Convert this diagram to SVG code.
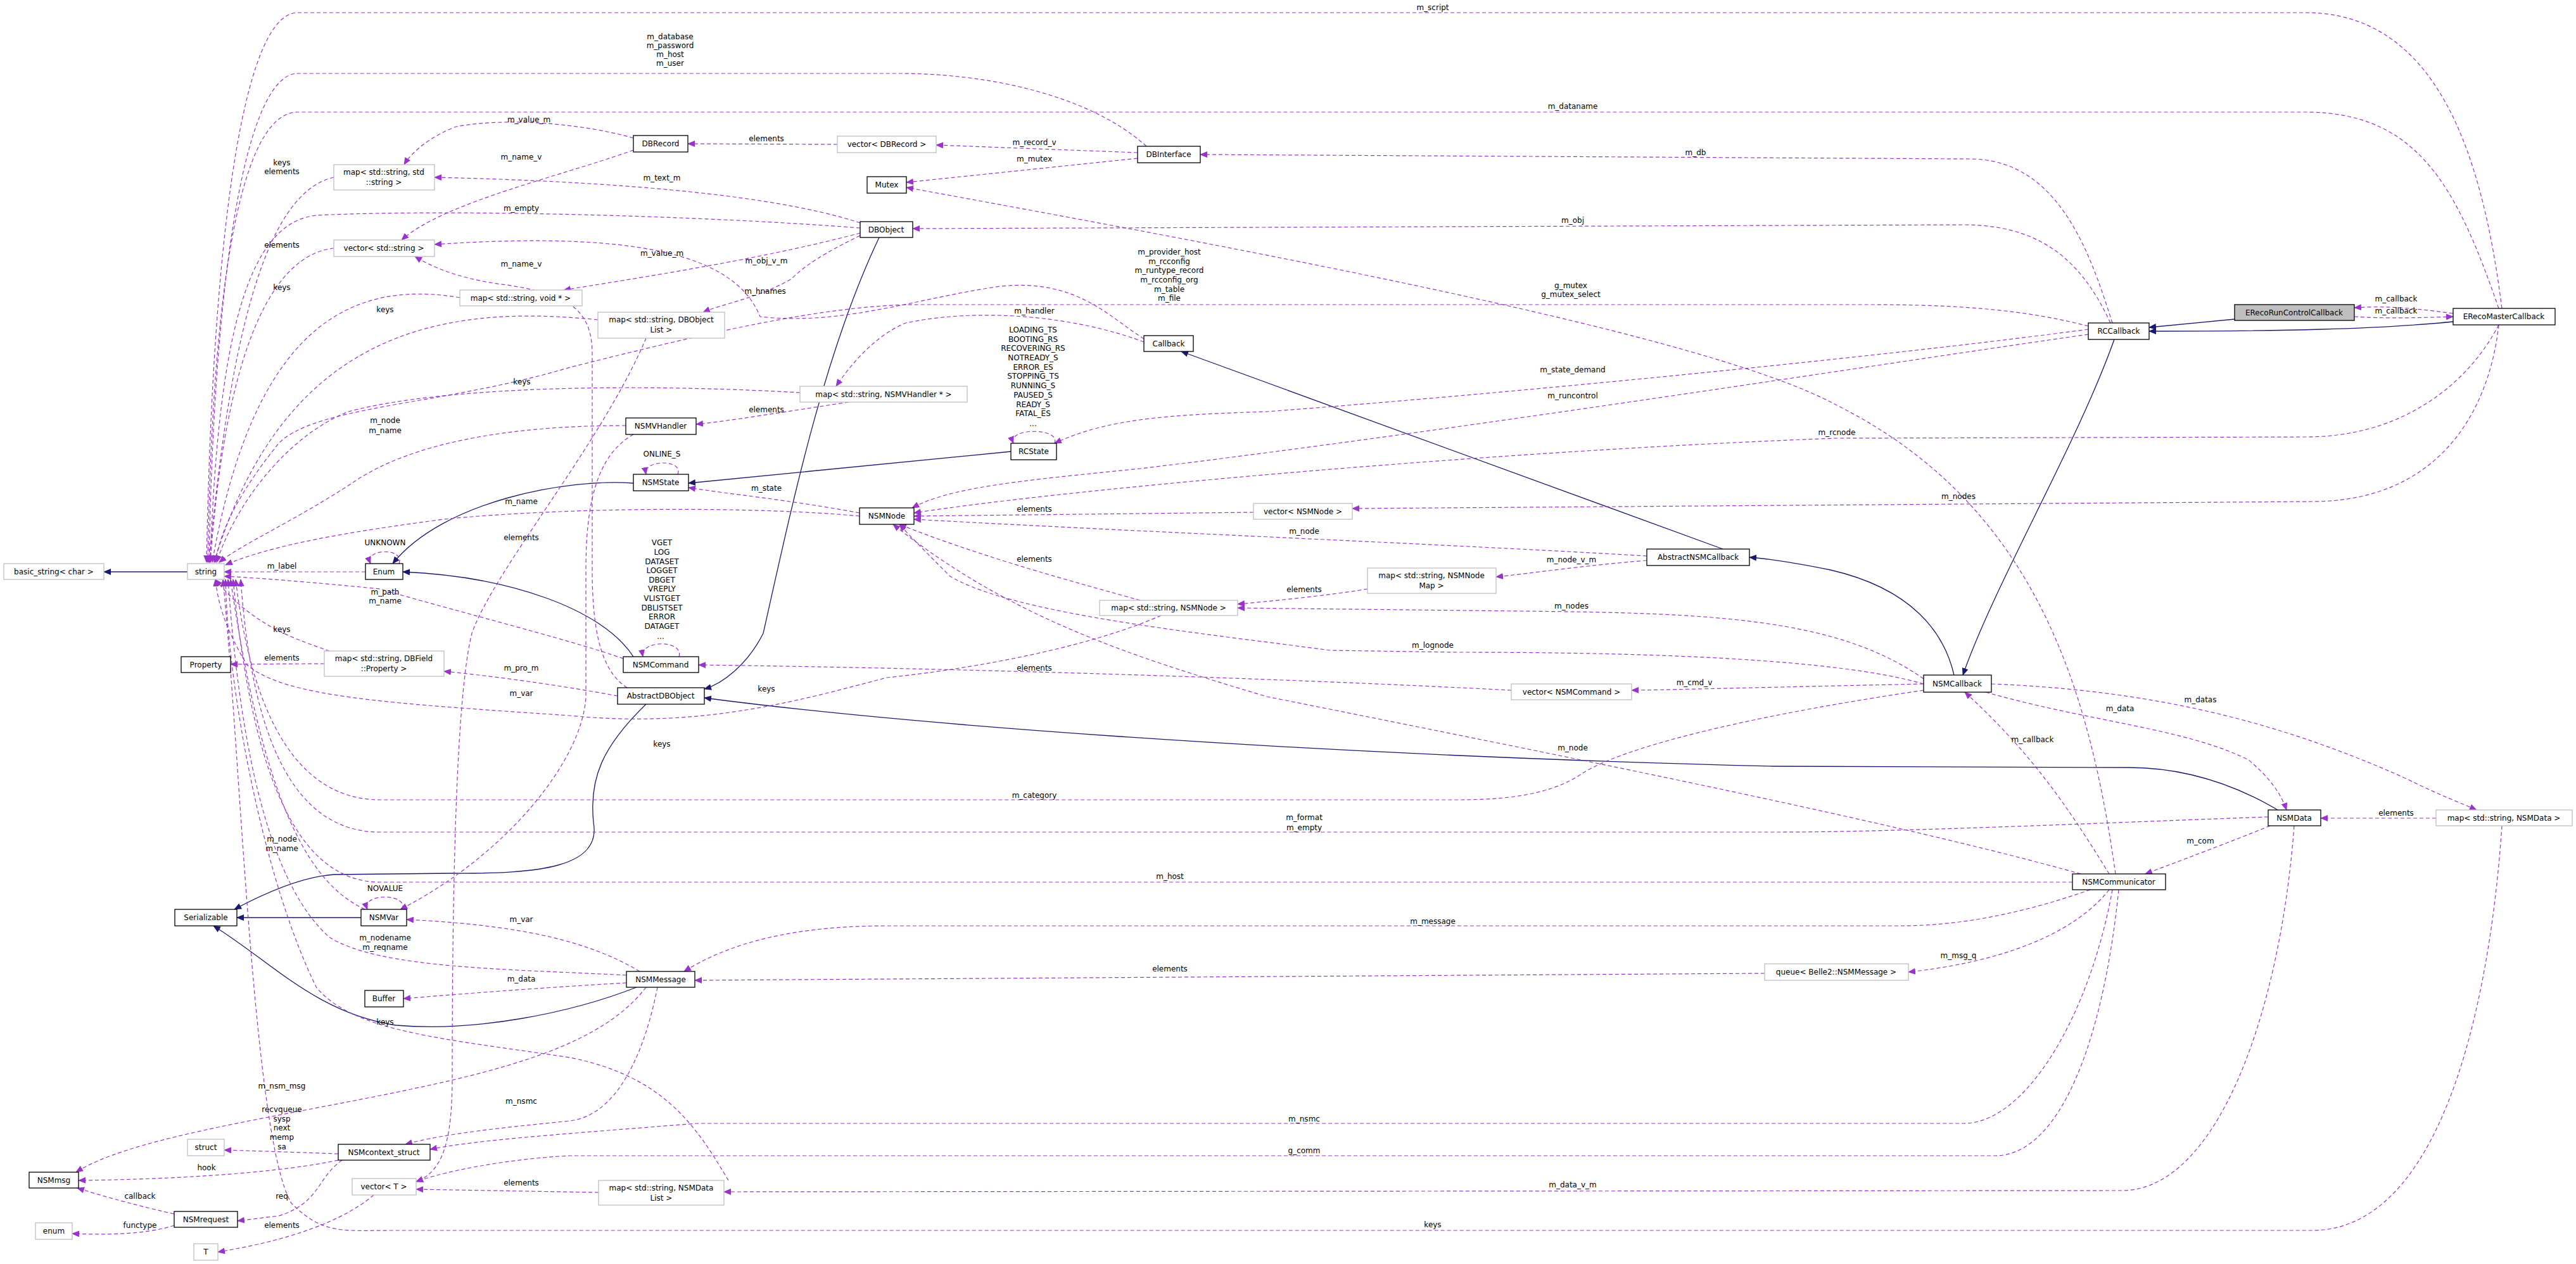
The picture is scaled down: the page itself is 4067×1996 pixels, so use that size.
<svg xmlns="http://www.w3.org/2000/svg" width="4067" height="1996" viewBox="0 0 4067 1996">
<style>
text{font-family:"DejaVu Sans","Liberation Sans",sans-serif;font-size:12px;fill:#000;text-anchor:middle}
.n rect{fill:#fff;stroke:#000;stroke-width:1.3}
.g rect{fill:#fff;stroke:#bfbfbf;stroke-width:1.3}
.h rect{fill:#bfbfbf;stroke:#000;stroke-width:1.3}
.d{fill:none;stroke:#9a32cd;stroke-width:1.2;stroke-dasharray:6,4;marker-end:url(#pa)}
.i{fill:none;stroke:#191970;stroke-width:1.3;marker-end:url(#na)}
</style>
<defs>
<marker id="pa" markerWidth="12" markerHeight="10" refX="11" refY="5" orient="auto" markerUnits="userSpaceOnUse"><path d="M0,0 L12,5 L0,10 z" fill="#9a32cd"/></marker>
<marker id="na" markerWidth="12" markerHeight="10" refX="11" refY="5" orient="auto" markerUnits="userSpaceOnUse"><path d="M0,0 L12,5 L0,10 z" fill="#191970"/></marker>
</defs>
<rect width="4067" height="1996" fill="#fff"/>
<g id="edges">
<path class="i" d="M296 903 L164 903"/>
<path class="i" d="M1000 763 C900 755 700 790 620 890"/>
<path class="i" d="M1596 713 L1087 763"/>
<path class="i" d="M1000 1037 C950 960 800 910 636 903"/>
<path class="i" d="M1388 375 C1300 560 1250 800 1205 1000 C1180 1050 1140 1080 1112 1088"/>
<path class="i" d="M3596 1279 C3530 1240 3450 1212 3360 1212 L2800 1210 C2000 1190 1400 1140 1112 1102"/>
<path class="i" d="M1020 1112 C950 1180 930 1230 937 1299 C950 1370 850 1380 714 1379 L527 1381 C470 1385 400 1420 370 1436"/>
<path class="i" d="M570 1449 L374 1449"/>
<path class="i" d="M1005 1559 C900 1600 750 1630 625 1619 C500 1600 430 1520 337 1462"/>
<path class="i" d="M3338 536 C3280 700 3150 920 3099 1066"/>
<path class="i" d="M3085 1066 C3070 1000 3020 930 2890 900 C2840 890 2790 882 2762 880"/>
<path class="i" d="M2720 867 L1865 555"/>
<path class="i" d="M3528 504 L3393 517"/>
<path class="i" d="M3873 508 C3750 520 3600 523 3393 523"/>

<path class="d" d="M3950 487 C3920 250 3850 20 3640 20 L470 20 C380 20 335 400 326 888"/>
<path class="d" d="M3945 487 C3880 300 3820 177 3640 177 L470 177 C380 177 335 450 328 888"/>
<path class="d" d="M1810 231 C1720 150 1560 116 1420 116 L470 116 C390 116 338 420 330 888"/>
<path class="d" d="M3335 510 C3300 400 3250 251 3110 251 L1895 244"/>
<path class="d" d="M1796 241 L1478 229"/>
<path class="d" d="M1796 250 L1431 288"/>
<path class="d" d="M1322 228 L1086 227"/>
<path class="d" d="M1000 218 C920 195 800 185 720 200 C680 215 650 240 638 260"/>
<path class="d" d="M1000 237 C880 280 700 320 634 379"/>
<path class="d" d="M1358 352 C1200 300 900 285 686 280"/>
<path class="d" d="M1358 360 C1100 340 700 330 500 340 C400 350 345 500 332 888"/>
<path class="d" d="M1358 368 C1200 410 1000 440 890 458"/>
<path class="d" d="M1358 372 C1300 400 1270 420 1250 440 C1200 470 1140 480 1110 493"/>
<path class="d" d="M1806 535 C1750 500 1700 440 1580 452 C1450 470 1330 515 1200 500 C1160 400 1000 365 686 386"/>
<path class="d" d="M527 392 C450 400 360 500 332 888"/>
<path class="d" d="M527 280 C440 300 370 450 330 888"/>
<path class="d" d="M726 470 C550 440 400 520 335 888"/>
<path class="d" d="M944 505 C700 480 450 520 338 888"/>
<path class="d" d="M3297 515 C3200 490 3100 481 2950 481 L1450 481 C1300 481 1100 530 900 580 C700 640 500 640 440 700 C400 750 350 820 340 888"/>
<path class="d" d="M1263 620 C1000 605 700 610 550 650 C450 690 370 800 342 888"/>
<path class="d" d="M988 672 C800 672 650 700 560 760 C470 820 380 860 346 888"/>
<path class="d" d="M1357 815 C1200 800 900 800 700 820 C550 840 430 860 356 892"/>
<path class="d" d="M577 903 L354 903"/>
<path class="d" d="M984 1040 C900 1010 700 960 600 930 C500 920 400 912 354 910"/>
<path class="d" d="M520 1028 C470 1010 400 990 340 915"/>
<path class="d" d="M1833 972 C1700 1030 1500 1060 1400 1070 C1250 1110 1100 1150 900 1130 C600 1110 450 1100 390 1050 C360 1000 345 960 340 915"/>
<path class="d" d="M1000 686 C940 720 925 800 925 900 L925 1100 C920 1200 800 1350 632 1436"/>
<path class="d" d="M990 1086 C950 1060 935 1000 935 900 L935 560 C935 490 900 465 800 450 C720 440 680 420 655 405"/>
<path class="d" d="M1020 534 C950 700 780 900 745 1000 C720 1100 714 1400 714 1700 C714 1800 700 1850 657 1866"/>
<path class="d" d="M512 1048 L364 1049"/>
<path class="d" d="M975 1099 C900 1085 800 1070 701 1060"/>
<path class="d" d="M3581 1290 C3300 1300 3000 1314 2800 1314 L600 1314 C480 1314 400 1200 380 915"/>
<path class="d" d="M3037 1090 C2900 1110 2600 1160 2500 1220 C2450 1255 2380 1263 2300 1263 L600 1263 C480 1263 400 1150 372 915"/>
<path class="d" d="M3272 1393 L600 1393 C480 1393 400 1250 368 915"/>
<path class="d" d="M576 1436 C500 1400 420 1300 364 915"/>
<path class="d" d="M989 1540 C800 1530 600 1530 520 1480 C430 1400 380 1200 360 915"/>
<path class="d" d="M1150 1864 C1100 1780 1050 1700 900 1670 C700 1640 560 1630 500 1560 C420 1400 360 1100 356 915"/>
<path class="d" d="M3950 1304 C3930 1600 3850 1943 3650 1943 L620 1943 C540 1943 510 1950 460 1900 C400 1800 380 1200 352 915"/>
<path class="d" d="M3332 510 C3290 420 3230 355 3100 355 L1441 361"/>
<path class="d" d="M3297 520 C3000 560 2400 620 2000 650 C1850 655 1750 660 1665 700"/>
<path class="d" d="M3297 528 C3000 570 2300 680 1800 740 C1600 760 1500 770 1440 802"/>
<path class="d" d="M3945 513 C3900 600 3800 690 3640 690 L2900 692 C2400 710 1700 770 1443 810"/>
<path class="d" d="M3945 513 C3930 650 3850 792 3650 792 L2135 803"/>
<path class="d" d="M1979 809 L1443 815"/>
<path class="d" d="M2600 878 C2300 860 1800 840 1443 820"/>
<path class="d" d="M2600 885 C2500 893 2420 905 2362 911"/>
<path class="d" d="M2159 930 C2100 940 2000 950 1954 954"/>
<path class="d" d="M3037 1072 C2900 975 2700 968 2400 965 L1954 960"/>
<path class="d" d="M3037 1080 C2900 1040 2600 1030 2300 1030 L2100 1027 C1900 1000 1600 970 1500 910 C1460 870 1440 850 1420 828"/>
<path class="d" d="M1800 948 C1700 920 1550 880 1420 828"/>
<path class="d" d="M3285 1380 C3000 1300 2500 1200 2000 1100 C1800 1040 1600 980 1410 828"/>
<path class="d" d="M2386 1090 C2000 1070 1500 1055 1103 1050"/>
<path class="d" d="M3037 1080 C2800 1085 2650 1089 2576 1090"/>
<path class="d" d="M3144 1080 C3400 1090 3600 1140 3800 1230 C3850 1255 3890 1270 3910 1279"/>
<path class="d" d="M3135 1093 C3300 1140 3450 1150 3550 1200 C3580 1225 3600 1250 3610 1279"/>
<path class="d" d="M3330 1380 C3280 1300 3220 1200 3102 1093"/>
<path class="d" d="M3846 1292 L3664 1292"/>
<path class="d" d="M3584 1304 C3520 1330 3440 1360 3387 1380"/>
<path class="d" d="M3340 1380 C3300 1100 3220 800 2900 640 C2700 530 2000 400 1431 296"/>
<path class="d" d="M3300 1405 C3200 1440 3100 1462 3000 1462 L1400 1462 C1250 1462 1150 1490 1080 1534"/>
<path class="d" d="M3330 1405 C3270 1480 3150 1520 3013 1535"/>
<path class="d" d="M2786 1537 L1097 1548"/>
<path class="d" d="M3335 1405 C3300 1600 3200 1774 3100 1774 L1100 1774 C900 1790 750 1800 679 1815"/>
<path class="d" d="M3345 1405 C3320 1650 3250 1825 3150 1825 L900 1825 C800 1830 700 1850 657 1866"/>
<path class="d" d="M3622 1304 C3600 1600 3500 1880 3350 1880 L1143 1882"/>
<path class="d" d="M945 1883 L657 1878"/>
<path class="d" d="M590 1887 C540 1930 450 1960 344 1977"/>
<path class="d" d="M1010 1534 C920 1480 800 1460 642 1452"/>
<path class="d" d="M989 1552 C850 1560 720 1570 637 1577"/>
<path class="d" d="M1020 1559 C950 1650 800 1690 600 1730 C400 1770 200 1800 120 1851"/>
<path class="d" d="M1038 1559 C1020 1650 980 1760 900 1770 C800 1780 700 1790 640 1807"/>
<path class="d" d="M534 1822 C480 1820 420 1818 354 1816"/>
<path class="d" d="M534 1832 C450 1850 300 1862 124 1864"/>
<path class="d" d="M540 1832 C500 1860 505 1900 440 1920 L375 1928"/>
<path class="d" d="M275 1917 C200 1900 150 1885 122 1876"/>
<path class="d" d="M275 1935 C230 1950 160 1950 114 1948"/>
<path class="d" d="M1806 540 C1700 500 1550 485 1430 510 C1380 530 1340 580 1320 610"/>
<path class="d" d="M1340 635 C1240 650 1150 665 1099 670"/>
<path class="d" d="M1357 810 C1250 790 1150 780 1087 770"/>
<path class="d" d="M3873 495 C3800 485 3760 483 3717 486"/>
<path class="d" d="M3717 500 C3760 503 3820 502 3873 500"/>
<path class="d" d="M1070 749 C1080 725 1015 725 1020 749"/>
<path class="d" d="M630 890 C640 865 575 865 585 890"/>
<path class="d" d="M635 1436 C645 1410 570 1410 580 1436"/>
<path class="d" d="M1072 1037 C1080 1010 1010 1010 1015 1037"/>
<path class="d" d="M1665 700 C1675 675 1590 675 1600 700"/>
</g>
<g id="labels">
<text x="2262" y="16">m_script</text>
<text x="1058" y="62">m_database</text><text x="1058" y="76">m_password</text><text x="1058" y="90">m_host</text><text x="1058" y="104">m_user</text>
<text x="2483" y="172">m_dataname</text>
<text x="835" y="193">m_value_m</text>
<text x="1210" y="223">elements</text>
<text x="1633" y="229">m_record_v</text>
<text x="1633" y="255">m_mutex</text>
<text x="2677" y="245">m_db</text>
<text x="445" y="261">keys</text><text x="445" y="275">elements</text>
<text x="823" y="252">m_name_v</text>
<text x="1045" y="285">m_text_m</text>
<text x="823" y="333">m_empty</text>
<text x="445" y="391">elements</text>
<text x="1045" y="404">m_value_m</text>
<text x="823" y="421">m_name_v</text>
<text x="1210" y="416">m_obj_v_m</text>
<text x="1208" y="464">m_hnames</text>
<text x="445" y="458">keys</text>
<text x="608" y="493">keys</text>
<text x="2483" y="352">m_obj</text>
<text x="1846" y="402">m_provider_host</text><text x="1846" y="417">m_rcconfig</text><text x="1846" y="431">m_runtype_record</text><text x="1846" y="446">m_rcconfig_org</text><text x="1846" y="461">m_table</text><text x="1846" y="475">m_file</text>
<text x="2480" y="455">g_mutex</text><text x="2480" y="469">g_mutex_select</text>
<text x="1633" y="495">m_handler</text>
<text x="1631" y="525">LOADING_TS</text><text x="1631" y="540">BOOTING_RS</text><text x="1631" y="554">RECOVERING_RS</text><text x="1631" y="569">NOTREADY_S</text><text x="1631" y="584">ERROR_ES</text><text x="1631" y="598">STOPPING_TS</text><text x="1631" y="613">RUNNING_S</text><text x="1631" y="628">PAUSED_S</text><text x="1631" y="643">READY_S</text><text x="1631" y="657">FATAL_ES</text><text x="1631" y="673">...</text>
<text x="824" y="607">keys</text>
<text x="1210" y="651">elements</text>
<text x="608" y="668">m_node</text><text x="608" y="684">m_name</text>
<text x="1045" y="721">ONLINE_S</text>
<text x="2483" y="588">m_state_demand</text>
<text x="2483" y="629">m_runcontrol</text>
<text x="2900" y="687">m_rcnode</text>
<text x="1210" y="775">m_state</text>
<text x="823" y="796">m_name</text>
<text x="3092" y="788">m_nodes</text>
<text x="1633" y="808">elements</text>
<text x="2059" y="843">m_node</text>
<text x="1633" y="887">elements</text>
<text x="2481" y="888">m_node_v_m</text>
<text x="608" y="861">UNKNOWN</text>
<text x="445" y="898">m_label</text>
<text x="823" y="853">elements</text>
<text x="1045" y="861">VGET</text><text x="1045" y="876">LOG</text><text x="1045" y="891">DATASET</text><text x="1045" y="905">LOGGET</text><text x="1045" y="920">DBGET</text><text x="1045" y="934">VREPLY</text><text x="1045" y="949">VLISTGET</text><text x="1045" y="964">DBLISTSET</text><text x="1045" y="978">ERROR</text><text x="1045" y="993">DATAGET</text><text x="1043" y="1009">...</text>
<text x="608" y="939">m_path</text><text x="608" y="953">m_name</text>
<text x="445" y="998">keys</text>
<text x="2059" y="935">elements</text>
<text x="2481" y="961">m_nodes</text>
<text x="2262" y="1023">m_lognode</text>
<text x="1633" y="1059">elements</text>
<text x="2675" y="1082">m_cmd_v</text>
<text x="2483" y="1185">m_node</text>
<text x="1633" y="1260">m_category</text>
<text x="2059" y="1295">m_format</text><text x="2059" y="1311">m_empty</text>
<text x="1847" y="1388">m_host</text>
<text x="2262" y="1459">m_message</text>
<text x="1847" y="1534">elements</text>
<text x="2059" y="1771">m_nsmc</text>
<text x="2059" y="1821">g_comm</text>
<text x="2483" y="1875">m_data_v_m</text>
<text x="2262" y="1938">keys</text>
<text x="445" y="1043">elements</text>
<text x="823" y="1059">m_pro_m</text>
<text x="823" y="1099">m_var</text>
<text x="1210" y="1092">keys</text>
<text x="1045" y="1179">keys</text>
<text x="445" y="1329">m_node</text><text x="445" y="1344">m_name</text>
<text x="608" y="1407">NOVALUE</text>
<text x="823" y="1456">m_var</text>
<text x="608" y="1485">m_nodename</text><text x="608" y="1500">m_reqname</text>
<text x="823" y="1550">m_data</text>
<text x="608" y="1618">keys</text>
<text x="445" y="1719">m_nsm_msg</text>
<text x="823" y="1743">m_nsmc</text>
<text x="445" y="1756">recvqueue</text><text x="445" y="1771">sysp</text><text x="445" y="1785">next</text><text x="445" y="1800">memp</text><text x="445" y="1815">sa</text>
<text x="326" y="1848">hook</text>
<text x="221" y="1893">callback</text>
<text x="445" y="1893">req</text>
<text x="221" y="1939">functype</text>
<text x="445" y="1939">elements</text>
<text x="823" y="1872">elements</text>
<text x="3474" y="1109">m_datas</text>
<text x="3347" y="1123">m_data</text>
<text x="3209" y="1172">m_callback</text>
<text x="3783" y="1288">elements</text>
<text x="3474" y="1332">m_com</text>
<text x="3092" y="1513">m_msg_q</text>
<text x="3783" y="476">m_callback</text>
<text x="3783" y="495">m_callback</text>
</g>
<g id="basic_string" class="g"><rect x="6" y="890" width="158" height="25"/><text x="85" y="907">basic_string&lt; char &gt;</text></g>
<g id="string" class="g"><rect x="296" y="890" width="58" height="25"/><text x="325" y="907">string</text></g>
<g id="Enum" class="n"><rect x="577" y="890" width="59" height="25"/><text x="606" y="907">Enum</text></g>
<g id="NSMState" class="n"><rect x="1000" y="749" width="87" height="26"/><text x="1043" y="766">NSMState</text></g>
<g id="NSMVHandler" class="n"><rect x="988" y="660" width="111" height="26"/><text x="1043" y="677">NSMVHandler</text></g>
<g id="DBRecord" class="n"><rect x="1000" y="214" width="86" height="26"/><text x="1043" y="231">DBRecord</text></g>
<g id="map_ss" class="g"><rect x="527" y="260" width="159" height="40"/><text x="606" y="276">map&lt; std::string, std</text><text x="606" y="292">::string &gt;</text></g>
<g id="vec_str" class="g"><rect x="527" y="379" width="159" height="26"/><text x="606" y="396">vector&lt; std::string &gt;</text></g>
<g id="map_void" class="g"><rect x="726" y="458" width="193" height="25"/><text x="822" y="475">map&lt; std::string, void * &gt;</text></g>
<g id="map_dbol" class="g"><rect x="944" y="493" width="200" height="41"/><text x="1044" y="509">map&lt; std::string, DBObject</text><text x="1044" y="525">List &gt;</text></g>
<g id="vec_dbrec" class="g"><rect x="1322" y="215" width="156" height="26"/><text x="1400" y="232">vector&lt; DBRecord &gt;</text></g>
<g id="Mutex" class="n"><rect x="1369" y="279" width="62" height="26"/><text x="1400" y="296">Mutex</text></g>
<g id="DBObject" class="n"><rect x="1358" y="350" width="83" height="25"/><text x="1399" y="367">DBObject</text></g>
<g id="DBInterface" class="n"><rect x="1796" y="231" width="99" height="26"/><text x="1845" y="248">DBInterface</text></g>
<g id="Callback" class="n"><rect x="1806" y="530" width="78" height="25"/><text x="1845" y="547">Callback</text></g>
<g id="map_vh" class="g"><rect x="1263" y="610" width="264" height="25"/><text x="1395" y="627">map&lt; std::string, NSMVHandler * &gt;</text></g>
<g id="RCState" class="n"><rect x="1596" y="700" width="72" height="26"/><text x="1632" y="717">RCState</text></g>
<g id="NSMNode" class="n"><rect x="1357" y="802" width="86" height="26"/><text x="1400" y="819">NSMNode</text></g>
<g id="vec_node" class="g"><rect x="1979" y="795" width="156" height="25"/><text x="2057" y="812">vector&lt; NSMNode &gt;</text></g>
<g id="map_nodemap" class="g"><rect x="2159" y="897" width="203" height="40"/><text x="2260" y="913">map&lt; std::string, NSMNode</text><text x="2260" y="929">Map &gt;</text></g>
<g id="map_node" class="g"><rect x="1736" y="948" width="218" height="24"/><text x="1845" y="964">map&lt; std::string, NSMNode &gt;</text></g>
<g id="AbstractNSMCallback" class="n"><rect x="2600" y="867" width="162" height="26"/><text x="2681" y="884">AbstractNSMCallback</text></g>
<g id="vec_cmd" class="g"><rect x="2386" y="1080" width="190" height="25"/><text x="2481" y="1097">vector&lt; NSMCommand &gt;</text></g>
<g id="Property" class="n"><rect x="286" y="1037" width="78" height="25"/><text x="325" y="1054">Property</text></g>
<g id="map_prop" class="g"><rect x="512" y="1028" width="189" height="40"/><text x="606" y="1044">map&lt; std::string, DBField</text><text x="606" y="1060">::Property &gt;</text></g>
<g id="NSMCommand" class="n"><rect x="984" y="1037" width="119" height="25"/><text x="1043" y="1054">NSMCommand</text></g>
<g id="AbstractDBObject" class="n"><rect x="975" y="1086" width="137" height="26"/><text x="1043" y="1103">AbstractDBObject</text></g>
<g id="Serializable" class="n"><rect x="276" y="1436" width="98" height="26"/><text x="325" y="1453">Serializable</text></g>
<g id="NSMVar" class="n"><rect x="570" y="1436" width="72" height="26"/><text x="606" y="1453">NSMVar</text></g>
<g id="NSMMessage" class="n"><rect x="989" y="1534" width="108" height="25"/><text x="1043" y="1551">NSMMessage</text></g>
<g id="Buffer" class="n"><rect x="576" y="1564" width="61" height="26"/><text x="606" y="1581">Buffer</text></g>
<g id="struct" class="g"><rect x="296" y="1799" width="58" height="26"/><text x="325" y="1816">struct</text></g>
<g id="NSMcontext_struct" class="n"><rect x="534" y="1807" width="145" height="25"/><text x="606" y="1824">NSMcontext_struct</text></g>
<g id="NSMmsg" class="n"><rect x="46" y="1851" width="78" height="25"/><text x="85" y="1868">NSMmsg</text></g>
<g id="vecT" class="g"><rect x="556" y="1861" width="101" height="26"/><text x="606" y="1878">vector&lt; T &gt;</text></g>
<g id="map_ndl" class="g"><rect x="945" y="1864" width="198" height="39"/><text x="1044" y="1880">map&lt; std::string, NSMData</text><text x="1044" y="1896">List &gt;</text></g>
<g id="NSMrequest" class="n"><rect x="275" y="1913" width="100" height="25"/><text x="325" y="1930">NSMrequest</text></g>
<g id="enum" class="g"><rect x="56" y="1931" width="58" height="26"/><text x="85" y="1948">enum</text></g>
<g id="T" class="g"><rect x="306" y="1964" width="38" height="26"/><text x="325" y="1981">T</text></g>
<g id="RCCallback" class="n"><rect x="3297" y="510" width="96" height="26"/><text x="3345" y="527">RCCallback</text></g>
<g id="ERecoRunControlCallback" class="h"><rect x="3528" y="481" width="189" height="25"/><text x="3622" y="498">ERecoRunControlCallback</text></g>
<g id="ERecoMasterCallback" class="n"><rect x="3873" y="487" width="161" height="26"/><text x="3953" y="504">ERecoMasterCallback</text></g>
<g id="NSMCallback" class="n"><rect x="3037" y="1066" width="107" height="27"/><text x="3090" y="1084">NSMCallback</text></g>
<g id="NSMData" class="n"><rect x="3581" y="1279" width="83" height="25"/><text x="3622" y="1296">NSMData</text></g>
<g id="map_nd" class="g"><rect x="3846" y="1279" width="215" height="25"/><text x="3953" y="1296">map&lt; std::string, NSMData &gt;</text></g>
<g id="NSMCommunicator" class="n"><rect x="3272" y="1380" width="147" height="25"/><text x="3345" y="1397">NSMCommunicator</text></g>
<g id="queue" class="g"><rect x="2786" y="1522" width="227" height="26"/><text x="2899" y="1539">queue&lt; Belle2::NSMMessage &gt;</text></g>
</svg>
